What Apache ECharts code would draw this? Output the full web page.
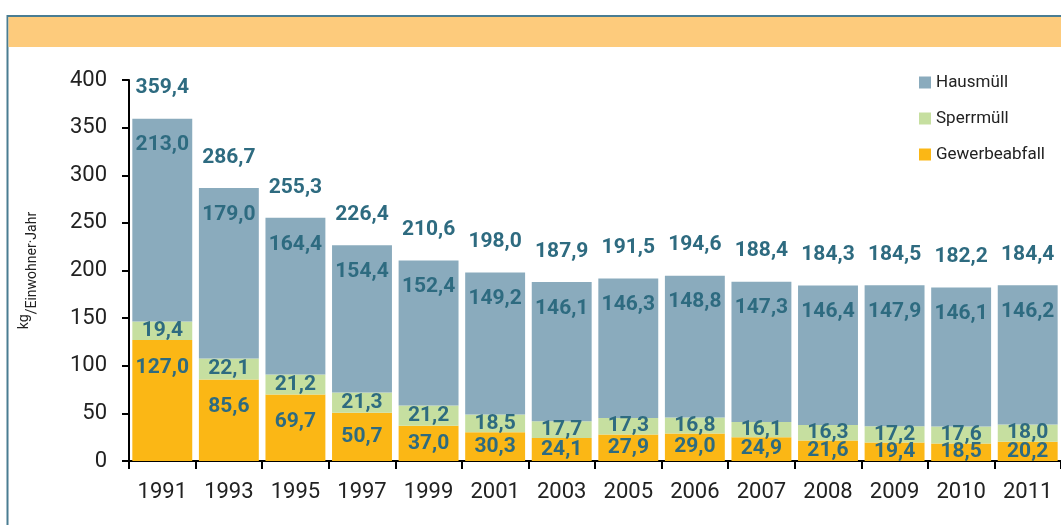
<!DOCTYPE html>
<html>
<head>
<meta charset="utf-8">
<script src="https://cdn.jsdelivr.net/npm/echarts@6/dist/echarts.min.js"></script>
<style>
html,body{margin:0;padding:0;background:#fff;}
#c{width:1061px;height:525px;}
</style>
</head>
<body>
<div id="c"></div>
<script>
const categories = ['1991','1993','1995','1997','1999','2001','2003','2005','2006','2007','2008','2009','2010','2011'];
const gewerbeabfall = [127.0, 85.6, 69.7, 50.7, 37.0, 30.3, 24.1, 27.9, 29.0, 24.9, 21.6, 19.4, 18.5, 20.2];
const sperrmuell = [19.4, 22.1, 21.2, 21.3, 21.2, 18.5, 17.7, 17.3, 16.8, 16.1, 16.3, 17.2, 17.6, 18.0];
const hausmuell = [213.0, 179.0, 164.4, 154.4, 152.4, 149.2, 146.1, 146.3, 148.8, 147.3, 146.4, 147.9, 146.1, 146.2];
const totals = [359.4, 286.7, 255.3, 226.4, 210.6, 198.0, 187.9, 191.5, 194.6, 188.4, 184.3, 184.5, 182.2, 184.4];
const yTicks = { min: 0, max: 400, interval: 50 };

const LABEL_COLOR = '#2e6b80';
const LFONT = "Roboto, 'Liberation Sans', sans-serif";
const fmt = v => v.toFixed(1).replace('.', ',');
const baseLabel = {
  show: true, color: LABEL_COLOR, fontFamily: LFONT, fontWeight: 'bold', fontSize: 21,
  formatter: p => fmt(p.value)
};

const chart = echarts.init(document.getElementById('c'), null, { renderer: 'canvas' });
chart.setOption({
  animation: false,
  backgroundColor: '#fff',
  graphic: [
    { type: 'rect', shape: { x: 7.5, y: 16, width: 1200, height: 700 }, style: { fill: '#fff', stroke: '#4a7d92', lineWidth: 2 }, z: -10 },
    { type: 'rect', shape: { x: 8.5, y: 17, width: 1200, height: 30 }, style: { fill: '#fdcb7c' }, z: -9 }
  ],
  legend: {
    orient: 'vertical', left: 914, top: 69, itemWidth: 12, itemHeight: 12, itemGap: 19,
    icon: 'rect',
    data: ['Hausmüll', 'Sperrmüll', 'Gewerbeabfall'],
    textStyle: { fontSize: 17, color: '#222', fontFamily: 'Roboto, Arial, sans-serif' }
  },
  grid: { left: 129, right: -6, top: 80, bottom: 64 },
  xAxis: {
    type: 'category', data: categories,
    axisLine: { lineStyle: { color: '#000', width: 2 } },
    axisTick: { show: true, length: 8, lineStyle: { color: '#000', width: 2 } },
    axisLabel: { fontSize: 22, color: '#222', margin: 20, fontFamily: 'Roboto, Arial, sans-serif' }
  },
  yAxis: {
    type: 'value', min: yTicks.min, max: yTicks.max, interval: yTicks.interval,
    splitLine: { show: false },
    axisLine: { show: true, lineStyle: { color: '#000', width: 2 } },
    axisTick: { show: true, length: 7, lineStyle: { color: '#000', width: 2 } },
    axisLabel: { fontSize: 22, color: '#222', margin: 22, fontFamily: 'Roboto, Arial, sans-serif' },
    name: '{a|kg}{b|/Einwohner·Jahr}',
    nameLocation: 'middle', nameRotate: 90, nameGap: 90,
    nameTextStyle: {
      color: '#222', fontFamily: 'Roboto, Arial, sans-serif',
      rich: {
        a: { fontSize: 14, color: '#222', padding: [0, 0, 8, 0] },
        b: { fontSize: 14, color: '#222', padding: [8, 0, 0, 0] }
      }
    }
  },
  series: [
    {
      name: 'Gewerbeabfall', type: 'bar', stack: 't', barCategoryGap: '10%',
      itemStyle: { color: '#fbb715' },
      data: gewerbeabfall.map(v => ({
        value: v,
        label: v < 55 ? { position: 'inside' } : { position: 'insideTop', distance: 17 }
      })),
      label: Object.assign({}, baseLabel)
    },
    {
      name: 'Sperrmüll', type: 'bar', stack: 't',
      itemStyle: { color: '#c6dfa0' },
      data: sperrmuell,
      label: Object.assign({}, baseLabel, { position: 'inside' })
    },
    {
      name: 'Hausmüll', type: 'bar', stack: 't',
      itemStyle: { color: '#8aabbd' },
      data: hausmuell,
      label: Object.assign({}, baseLabel, { position: 'insideTop', distance: 16 })
    },
    {
      name: 'Summe', type: 'bar', stack: 't',
      itemStyle: { color: 'transparent' },
      data: totals.map(() => 0),
      label: Object.assign({}, baseLabel, { position: 'top', distance: 20, formatter: p => fmt(totals[p.dataIndex]) })
    }
  ]
});
</script>
</body>
</html>
